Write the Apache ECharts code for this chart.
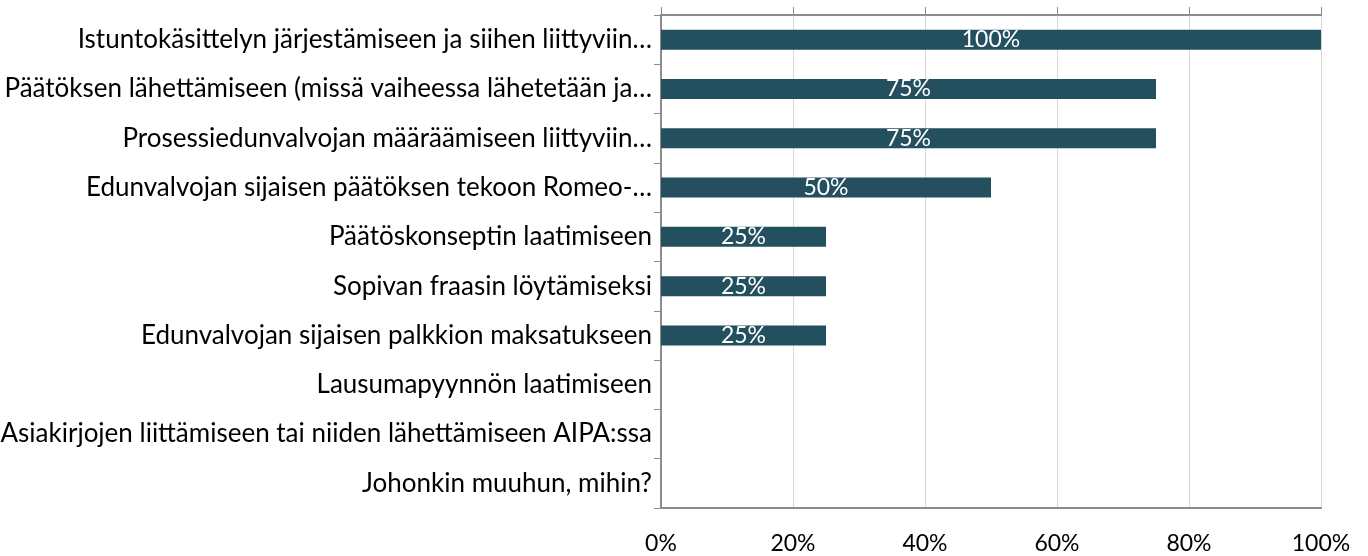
<!DOCTYPE html>
<html>
<head>
<meta charset="utf-8">
<script src="https://cdn.jsdelivr.net/npm/echarts@6/dist/echarts.min.js"></script>
<style>
  html, body { margin: 0; padding: 0; background: #fff; }
  #chart { width: 1368px; height: 556px; }
</style>
</head>
<body>
<div id="chart"></div>
<script>
const categories = [
  'Istuntokäsittelyn järjestämiseen ja siihen liittyviin…',
  'Päätöksen lähettämiseen (missä vaiheessa lähetetään ja…',
  'Prosessiedunvalvojan määräämiseen liittyviin…',
  'Edunvalvojan sijaisen päätöksen tekoon Romeo-…',
  'Päätöskonseptin laatimiseen',
  'Sopivan fraasin löytämiseksi',
  'Edunvalvojan sijaisen palkkion maksatukseen',
  'Lausumapyynnön laatimiseen',
  'Asiakirjojen liittämiseen tai niiden lähettämiseen AIPA:ssa',
  'Johonkin muuhun, mihin?'
]
const shares = [100, 75, 75, 50, 25, 25, 25, 0, 0, 0]
const xTicks = [0, 20, 40, 60, 80, 100]

const chart = echarts.init(document.getElementById('chart'))
const font = 'Lato, "Open Sans", sans-serif'
const axisGray = '#8c8c8c'

chart.setOption({
  animation: false,
  grid: { left: 661, right: 47, top: 15, bottom: 48, outerBoundsMode: 'none' },
  xAxis: [
    {
      type: 'value',
      position: 'bottom',
      min: 0,
      max: 100,
      interval: xTicks[1] - xTicks[0],
      axisLine: { show: true, lineStyle: { color: axisGray, width: 2 } },
      axisTick: { show: false },
      axisLabel: {
        formatter: (v) => v + '%',
        color: '#000',
        fontSize: 23,
        fontFamily: font,
        margin: 24
      },
      splitLine: { show: true, lineStyle: { color: '#d9d9d9', width: 1 } }
    },
    {
      type: 'value',
      position: 'top',
      min: 0,
      max: 100,
      interval: 20,
      axisLine: { show: true, lineStyle: { color: axisGray, width: 2 } },
      axisTick: { show: true, length: 8, lineStyle: { color: axisGray, width: 1 } },
      axisLabel: { show: false },
      splitLine: { show: false }
    }
  ],
  yAxis: [
    {
      type: 'category',
      data: categories,
      inverse: true,
      axisLine: { show: true, lineStyle: { color: axisGray, width: 2 } },
      axisTick: { show: true, length: 7, interval: 0, lineStyle: { color: axisGray, width: 1 } },
      axisLabel: {
        color: '#000',
        fontSize: 26,
        fontFamily: font,
        margin: 9,
        interval: 0
      }
    },
    {
      type: 'category',
      position: 'right',
      data: categories,
      inverse: true,
      axisLine: { show: true, lineStyle: { color: axisGray, width: 2 } },
      axisTick: { show: false },
      axisLabel: { show: false }
    }
  ],
  series: [
    {
      type: 'bar',
      data: shares,
      barWidth: 20,
      itemStyle: { color: '#234f5e' },
      label: {
        show: true,
        position: 'inside',
        color: '#fff',
        fontSize: 23,
        fontFamily: font,
        formatter: (p) => (p.value > 0 ? p.value + '%' : '')
      }
    }
  ]
})
</script>
</body>
</html>
